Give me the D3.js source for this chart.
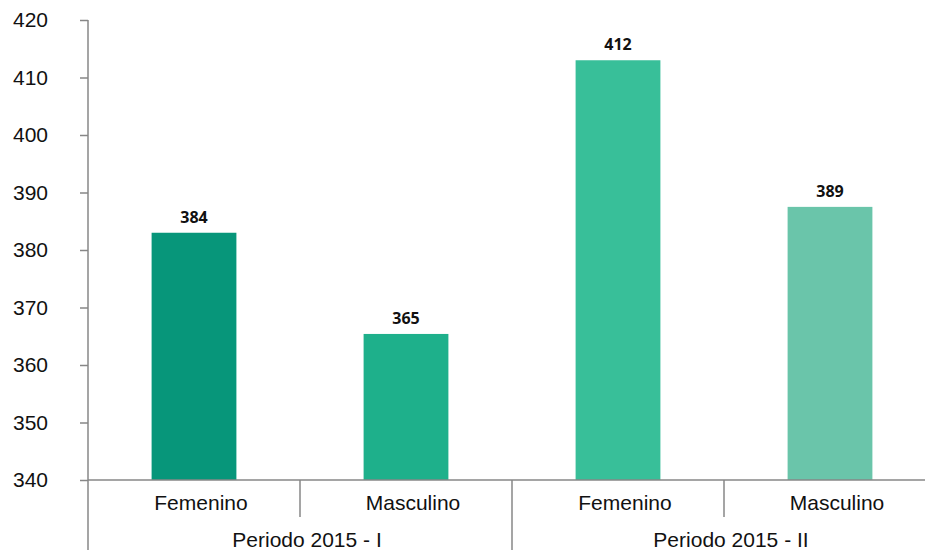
<!DOCTYPE html>
<html><head><meta charset="utf-8">
<script src="https://cdn.jsdelivr.net/npm/d3@7"></script>
<style>body{margin:0;background:#fff;} svg{display:block;}</style>
</head><body>
<svg id="chart" width="925" height="550"></svg>
<script>
const categories = ["Femenino", "Masculino", "Femenino", "Masculino"];
const groups = ["Periodo 2015 - I", "Periodo 2015 - II"];
const values = [383.0, 365.4, 413.0, 387.5];
const dataLabels = ["384", "365", "412", "389"];
const colors = ["#07967a", "#1eb08b", "#38bf99", "#6ac5aa"];
const yTicks = [340, 350, 360, 370, 380, 390, 400, 410, 420];

(function () {
const svg = d3.select("#chart");
const axisColor = "#878787";
const mLeft = 88, mTop = 20, mBottom = 480;
const labelShift = 7;

const x = d3.scaleBand().domain(d3.range(categories.length))
  .range([mLeft, mLeft + 848]).paddingInner(0.6).paddingOuter(0.3);
const y = d3.scaleLinear().domain([340, 420]).range([mBottom, mTop]);

// bars
svg.selectAll("rect.bar").data(values).join("rect")
  .attr("class", "bar")
  .attr("x", (d, i) => x(i))
  .attr("width", x.bandwidth())
  .attr("y", d => y(d))
  .attr("height", d => y(340) - y(d))
  .attr("fill", (d, i) => colors[i]);

// data labels
svg.selectAll("text.dl").data(values).join("text")
  .attr("class", "dl")
  .attr("x", (d, i) => x(i) + x.bandwidth() / 2)
  .attr("y", d => y(d) - 10)
  .attr("text-anchor", "middle")
  .attr("font-family", "'Open Sans', sans-serif")
  .attr("font-weight", 700)
  .attr("font-size", 16)
  .attr("fill", "#111")
  .text((d, i) => dataLabels[i]);

// y axis
const yAxis = d3.axisLeft(y).tickValues(yTicks).tickSize(8).tickSizeOuter(0).tickPadding(32);
const ga = svg.append("g").attr("transform", `translate(${mLeft},0)`).call(yAxis);
ga.select(".domain").remove();
ga.selectAll(".tick line").attr("stroke", axisColor).attr("stroke-width", 1.5);
ga.selectAll(".tick text").attr("font-family", "'Liberation Sans', Arial, sans-serif")
  .attr("font-size", 21).attr("fill", "#111");

// axis lines
svg.append("line").attr("x1", mLeft).attr("x2", mLeft).attr("y1", mTop).attr("y2", 550)
  .attr("stroke", axisColor).attr("stroke-width", 1.5);
svg.append("line").attr("x1", mLeft).attr("x2", 925).attr("y1", mBottom).attr("y2", mBottom)
  .attr("stroke", axisColor).attr("stroke-width", 1.5);

// category separators
const step = x.step();
d3.range(1, categories.length + 1).forEach(i => {
  const bx = x.range()[0] + i * step;
  const long = i % 2 === 0;
  svg.append("line").attr("x1", bx).attr("x2", bx).attr("y1", mBottom)
    .attr("y2", long ? 550 : 517).attr("stroke", axisColor).attr("stroke-width", 1.5);
});

// category labels
svg.selectAll("text.cat").data(categories).join("text")
  .attr("class", "cat")
  .attr("x", (d, i) => x(i) + x.bandwidth() / 2 + labelShift)
  .attr("y", 510)
  .attr("text-anchor", "middle")
  .attr("font-family", "'Liberation Sans', Arial, sans-serif")
  .attr("font-size", 21).attr("fill", "#111")
  .text(d => d);

// group labels
svg.selectAll("text.grp").data(groups).join("text")
  .attr("class", "grp")
  .attr("x", (d, g) => (x(g * 2) + x(g * 2 + 1) + x.bandwidth()) / 2 + labelShift)
  .attr("y", 547)
  .attr("text-anchor", "middle")
  .attr("font-family", "'Liberation Sans', Arial, sans-serif")
  .attr("font-size", 21).attr("fill", "#111")
  .text(d => d);
})();
</script>
</body></html>
